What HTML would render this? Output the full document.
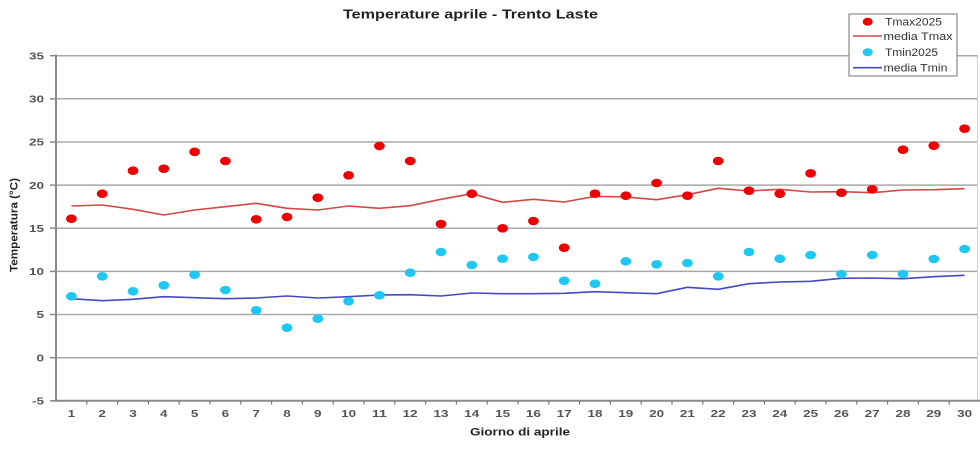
<!DOCTYPE html>
<html>
<head>
<meta charset="utf-8">
<style>
  html, body { margin:0; padding:0; background:#fff; }
  svg { display:block; }
  text { font-family: "Liberation Sans", Arial, sans-serif; }
</style>
</head>
<body>
<svg width="980" height="450" viewBox="0 0 980 450" xmlns="http://www.w3.org/2000/svg">
  <rect x="0" y="0" width="980" height="450" fill="#fff"/>

  <!-- Title -->
  <text x="343" y="18.5" font-size="12.5" font-weight="bold" fill="#222" textLength="255" lengthAdjust="spacingAndGlyphs">Temperature aprile - Trento Laste</text>

  <!-- Gridlines -->
  <g stroke="#a8a8a8" stroke-width="1.5">
    <line x1="56" y1="55.7" x2="978" y2="55.7"/>
    <line x1="56" y1="98.8" x2="978" y2="98.8"/>
    <line x1="56" y1="142" x2="978" y2="142"/>
    <line x1="56" y1="185.1" x2="978" y2="185.1"/>
    <line x1="56" y1="228.2" x2="978" y2="228.2"/>
    <line x1="56" y1="271.4" x2="978" y2="271.4"/>
    <line x1="56" y1="314.5" x2="978" y2="314.5"/>
    <line x1="56" y1="357.7" x2="978" y2="357.7"/>
  </g>
  <line x1="977.5" y1="55" x2="977.5" y2="401" stroke="#cfcfcf" stroke-width="1"/>

  <!-- Y tick marks -->
  <g stroke="#888" stroke-width="1.5">
    <line x1="50" y1="55.7" x2="56" y2="55.7"/>
    <line x1="50" y1="98.8" x2="56" y2="98.8"/>
    <line x1="50" y1="142" x2="56" y2="142"/>
    <line x1="50" y1="185.1" x2="56" y2="185.1"/>
    <line x1="50" y1="228.2" x2="56" y2="228.2"/>
    <line x1="50" y1="271.4" x2="56" y2="271.4"/>
    <line x1="50" y1="314.5" x2="56" y2="314.5"/>
    <line x1="50" y1="357.7" x2="56" y2="357.7"/>
    <line x1="50" y1="400.8" x2="56" y2="400.8"/>
  </g>

  <!-- Axes -->
  <line x1="56" y1="54.5" x2="56" y2="401.8" stroke="#8a8a8a" stroke-width="2"/>
  <line x1="55" y1="400.8" x2="980" y2="400.8" stroke="#8a8a8a" stroke-width="2"/>

  <!-- X tick marks -->
  <g stroke="#777" stroke-width="1.2">
    <line x1="86.8" y1="401" x2="86.8" y2="404.5"/>
    <line x1="117.6" y1="401" x2="117.6" y2="404.5"/>
    <line x1="148.4" y1="401" x2="148.4" y2="404.5"/>
    <line x1="179.2" y1="401" x2="179.2" y2="404.5"/>
    <line x1="210" y1="401" x2="210" y2="404.5"/>
    <line x1="240.8" y1="401" x2="240.8" y2="404.5"/>
    <line x1="271.6" y1="401" x2="271.6" y2="404.5"/>
    <line x1="302.4" y1="401" x2="302.4" y2="404.5"/>
    <line x1="333.2" y1="401" x2="333.2" y2="404.5"/>
    <line x1="364" y1="401" x2="364" y2="404.5"/>
    <line x1="394.8" y1="401" x2="394.8" y2="404.5"/>
    <line x1="425.6" y1="401" x2="425.6" y2="404.5"/>
    <line x1="456.4" y1="401" x2="456.4" y2="404.5"/>
    <line x1="487.2" y1="401" x2="487.2" y2="404.5"/>
    <line x1="518" y1="401" x2="518" y2="404.5"/>
    <line x1="548.8" y1="401" x2="548.8" y2="404.5"/>
    <line x1="579.6" y1="401" x2="579.6" y2="404.5"/>
    <line x1="610.4" y1="401" x2="610.4" y2="404.5"/>
    <line x1="641.2" y1="401" x2="641.2" y2="404.5"/>
    <line x1="672" y1="401" x2="672" y2="404.5"/>
    <line x1="702.8" y1="401" x2="702.8" y2="404.5"/>
    <line x1="733.6" y1="401" x2="733.6" y2="404.5"/>
    <line x1="764.4" y1="401" x2="764.4" y2="404.5"/>
    <line x1="795.2" y1="401" x2="795.2" y2="404.5"/>
    <line x1="826" y1="401" x2="826" y2="404.5"/>
    <line x1="856.8" y1="401" x2="856.8" y2="404.5"/>
    <line x1="887.6" y1="401" x2="887.6" y2="404.5"/>
    <line x1="918.4" y1="401" x2="918.4" y2="404.5"/>
    <line x1="949.2" y1="401" x2="949.2" y2="404.5"/>
  </g>

  <!-- Y tick labels -->
  <g font-size="10.5" fill="#555" text-anchor="end" font-weight="bold">
    <text x="44" y="59.4" textLength="15" lengthAdjust="spacingAndGlyphs">35</text>
    <text x="44" y="102.5" textLength="15" lengthAdjust="spacingAndGlyphs">30</text>
    <text x="44" y="145.7" textLength="15" lengthAdjust="spacingAndGlyphs">25</text>
    <text x="44" y="188.8" textLength="15" lengthAdjust="spacingAndGlyphs">20</text>
    <text x="44" y="231.9" textLength="15" lengthAdjust="spacingAndGlyphs">15</text>
    <text x="44" y="275.1" textLength="15" lengthAdjust="spacingAndGlyphs">10</text>
    <text x="44" y="318.2" textLength="7.5" lengthAdjust="spacingAndGlyphs">5</text>
    <text x="44" y="361.4" textLength="7.5" lengthAdjust="spacingAndGlyphs">0</text>
    <text x="44" y="404.5" textLength="12" lengthAdjust="spacingAndGlyphs">-5</text>
  </g>

  <!-- X tick labels -->
  <g font-size="10.5" fill="#555" text-anchor="middle" font-weight="bold">
    <text x="71.4" y="417" textLength="7.5" lengthAdjust="spacingAndGlyphs">1</text>
    <text x="102.2" y="417" textLength="7.5" lengthAdjust="spacingAndGlyphs">2</text>
    <text x="133" y="417" textLength="7.5" lengthAdjust="spacingAndGlyphs">3</text>
    <text x="163.8" y="417" textLength="7.5" lengthAdjust="spacingAndGlyphs">4</text>
    <text x="194.6" y="417" textLength="7.5" lengthAdjust="spacingAndGlyphs">5</text>
    <text x="225.4" y="417" textLength="7.5" lengthAdjust="spacingAndGlyphs">6</text>
    <text x="256.2" y="417" textLength="7.5" lengthAdjust="spacingAndGlyphs">7</text>
    <text x="287" y="417" textLength="7.5" lengthAdjust="spacingAndGlyphs">8</text>
    <text x="317.8" y="417" textLength="7.5" lengthAdjust="spacingAndGlyphs">9</text>
    <text x="348.6" y="417" textLength="15" lengthAdjust="spacingAndGlyphs">10</text>
    <text x="379.4" y="417" textLength="15" lengthAdjust="spacingAndGlyphs">11</text>
    <text x="410.2" y="417" textLength="15" lengthAdjust="spacingAndGlyphs">12</text>
    <text x="441" y="417" textLength="15" lengthAdjust="spacingAndGlyphs">13</text>
    <text x="471.8" y="417" textLength="15" lengthAdjust="spacingAndGlyphs">14</text>
    <text x="502.6" y="417" textLength="15" lengthAdjust="spacingAndGlyphs">15</text>
    <text x="533.4" y="417" textLength="15" lengthAdjust="spacingAndGlyphs">16</text>
    <text x="564.2" y="417" textLength="15" lengthAdjust="spacingAndGlyphs">17</text>
    <text x="595" y="417" textLength="15" lengthAdjust="spacingAndGlyphs">18</text>
    <text x="625.8" y="417" textLength="15" lengthAdjust="spacingAndGlyphs">19</text>
    <text x="656.6" y="417" textLength="15" lengthAdjust="spacingAndGlyphs">20</text>
    <text x="687.4" y="417" textLength="15" lengthAdjust="spacingAndGlyphs">21</text>
    <text x="718.2" y="417" textLength="15" lengthAdjust="spacingAndGlyphs">22</text>
    <text x="749" y="417" textLength="15" lengthAdjust="spacingAndGlyphs">23</text>
    <text x="779.8" y="417" textLength="15" lengthAdjust="spacingAndGlyphs">24</text>
    <text x="810.6" y="417" textLength="15" lengthAdjust="spacingAndGlyphs">25</text>
    <text x="841.4" y="417" textLength="15" lengthAdjust="spacingAndGlyphs">26</text>
    <text x="872.2" y="417" textLength="15" lengthAdjust="spacingAndGlyphs">27</text>
    <text x="903" y="417" textLength="15" lengthAdjust="spacingAndGlyphs">28</text>
    <text x="933.8" y="417" textLength="15" lengthAdjust="spacingAndGlyphs">29</text>
    <text x="964.6" y="417" textLength="15" lengthAdjust="spacingAndGlyphs">30</text>
  </g>

  <!-- Axis titles -->
  <text x="520" y="435.5" font-size="11" font-weight="bold" fill="#222" text-anchor="middle" textLength="100" lengthAdjust="spacingAndGlyphs">Giorno di aprile</text>
  <text transform="translate(17.5,225) rotate(-90)" x="0" y="0" font-size="11" font-weight="bold" fill="#222" text-anchor="middle" textLength="94" lengthAdjust="spacingAndGlyphs">Temperatura (°C)</text>

  <!-- media Tmax -->
  <polyline fill="none" stroke="#d04848" stroke-width="1.6" stroke-linejoin="round"
    points="71.4,206 102.2,205 133,209.3 163.8,215 194.6,210 225.4,206.7 256.2,203.3 287,208.3 317.8,210 348.6,206 379.4,208.3 410.2,205.7 441,199.3 471.8,193.7 502.6,202.3 533.4,199.3 564.2,202 595,196.3 625.8,197 656.6,199.7 687.4,194.7 718.2,188.3 749,191 779.8,189.3 810.6,192 841.4,191.7 872.2,192.7 903,190 933.8,189.7 964.6,188.7"/>

  <!-- media Tmin -->
  <polyline fill="none" stroke="#4848c0" stroke-width="1.6" stroke-linejoin="round"
    points="71.4,298.7 102.2,300.7 133,299.3 163.8,296.7 194.6,297.7 225.4,298.7 256.2,298 287,296 317.8,298 348.6,296.7 379.4,295 410.2,294.7 441,296 471.8,293 502.6,293.7 533.4,293.7 564.2,293.3 595,291.7 625.8,292.7 656.6,293.7 687.4,287.3 718.2,289.3 749,283.7 779.8,282 810.6,281.3 841.4,278.3 872.2,278 903,278.7 933.8,276.7 964.6,275.3"/>

  <!-- Tmax2025 -->
  <g fill="#ee0000">
    <ellipse cx="71.4" cy="218.7" rx="5.4" ry="4.3"/>
    <ellipse cx="102.2" cy="193.7" rx="5.4" ry="4.3"/>
    <ellipse cx="133" cy="170.7" rx="5.4" ry="4.3"/>
    <ellipse cx="163.8" cy="168.7" rx="5.4" ry="4.3"/>
    <ellipse cx="194.6" cy="151.8" rx="5.4" ry="4.3"/>
    <ellipse cx="225.4" cy="161" rx="5.4" ry="4.3"/>
    <ellipse cx="256.2" cy="219.3" rx="5.4" ry="4.3"/>
    <ellipse cx="287" cy="217" rx="5.4" ry="4.3"/>
    <ellipse cx="317.8" cy="197.7" rx="5.4" ry="4.3"/>
    <ellipse cx="348.6" cy="175.3" rx="5.4" ry="4.3"/>
    <ellipse cx="379.4" cy="146" rx="5.4" ry="4.3"/>
    <ellipse cx="410.2" cy="161" rx="5.4" ry="4.3"/>
    <ellipse cx="441" cy="224" rx="5.4" ry="4.3"/>
    <ellipse cx="471.8" cy="193.7" rx="5.4" ry="4.3"/>
    <ellipse cx="502.6" cy="228.3" rx="5.4" ry="4.3"/>
    <ellipse cx="533.4" cy="221" rx="5.4" ry="4.3"/>
    <ellipse cx="564.2" cy="247.7" rx="5.4" ry="4.3"/>
    <ellipse cx="595" cy="193.7" rx="5.4" ry="4.3"/>
    <ellipse cx="625.8" cy="195.7" rx="5.4" ry="4.3"/>
    <ellipse cx="656.6" cy="183" rx="5.4" ry="4.3"/>
    <ellipse cx="687.4" cy="195.7" rx="5.4" ry="4.3"/>
    <ellipse cx="718.2" cy="161" rx="5.4" ry="4.3"/>
    <ellipse cx="749" cy="190.7" rx="5.4" ry="4.3"/>
    <ellipse cx="779.8" cy="193.7" rx="5.4" ry="4.3"/>
    <ellipse cx="810.6" cy="173.3" rx="5.4" ry="4.3"/>
    <ellipse cx="841.4" cy="192.7" rx="5.4" ry="4.3"/>
    <ellipse cx="872.2" cy="189.3" rx="5.4" ry="4.3"/>
    <ellipse cx="903" cy="149.7" rx="5.4" ry="4.3"/>
    <ellipse cx="933.8" cy="145.7" rx="5.4" ry="4.3"/>
    <ellipse cx="964.6" cy="128.7" rx="5.4" ry="4.3"/>
  </g>

  <!-- Tmin2025 -->
  <g fill="#1ec8f2">
    <ellipse cx="71.4" cy="296.3" rx="5.4" ry="4.3"/>
    <ellipse cx="102.2" cy="276.3" rx="5.4" ry="4.3"/>
    <ellipse cx="133" cy="291.3" rx="5.4" ry="4.3"/>
    <ellipse cx="163.8" cy="285.3" rx="5.4" ry="4.3"/>
    <ellipse cx="194.6" cy="274.7" rx="5.4" ry="4.3"/>
    <ellipse cx="225.4" cy="290" rx="5.4" ry="4.3"/>
    <ellipse cx="256.2" cy="310.3" rx="5.4" ry="4.3"/>
    <ellipse cx="287" cy="327.7" rx="5.4" ry="4.3"/>
    <ellipse cx="317.8" cy="318.7" rx="5.4" ry="4.3"/>
    <ellipse cx="348.6" cy="301.3" rx="5.4" ry="4.3"/>
    <ellipse cx="379.4" cy="295.3" rx="5.4" ry="4.3"/>
    <ellipse cx="410.2" cy="272.7" rx="5.4" ry="4.3"/>
    <ellipse cx="441" cy="252" rx="5.4" ry="4.3"/>
    <ellipse cx="471.8" cy="265" rx="5.4" ry="4.3"/>
    <ellipse cx="502.6" cy="258.7" rx="5.4" ry="4.3"/>
    <ellipse cx="533.4" cy="257" rx="5.4" ry="4.3"/>
    <ellipse cx="564.2" cy="280.7" rx="5.4" ry="4.3"/>
    <ellipse cx="595" cy="283.7" rx="5.4" ry="4.3"/>
    <ellipse cx="625.8" cy="261.3" rx="5.4" ry="4.3"/>
    <ellipse cx="656.6" cy="264.3" rx="5.4" ry="4.3"/>
    <ellipse cx="687.4" cy="263" rx="5.4" ry="4.3"/>
    <ellipse cx="718.2" cy="276.3" rx="5.4" ry="4.3"/>
    <ellipse cx="749" cy="252" rx="5.4" ry="4.3"/>
    <ellipse cx="779.8" cy="258.7" rx="5.4" ry="4.3"/>
    <ellipse cx="810.6" cy="255" rx="5.4" ry="4.3"/>
    <ellipse cx="841.4" cy="274" rx="5.4" ry="4.3"/>
    <ellipse cx="872.2" cy="255" rx="5.4" ry="4.3"/>
    <ellipse cx="903" cy="274" rx="5.4" ry="4.3"/>
    <ellipse cx="933.8" cy="259" rx="5.4" ry="4.3"/>
    <ellipse cx="964.6" cy="249" rx="5.4" ry="4.3"/>
  </g>

  <!-- Legend -->
  <rect x="849" y="14" width="108" height="62" fill="#fff" stroke="#8a8a8a" stroke-width="1.2"/>
  <ellipse cx="867.7" cy="21.7" rx="5" ry="4" fill="#ee0000"/>
  <line x1="853" y1="36" x2="882" y2="36" stroke="#d04848" stroke-width="1.6"/>
  <ellipse cx="867.7" cy="52.3" rx="5" ry="4" fill="#1ec8f2"/>
  <line x1="853" y1="67.7" x2="882" y2="67.7" stroke="#4848c0" stroke-width="1.6"/>
  <g font-size="11" fill="#333">
    <text x="885" y="25.6" textLength="57" lengthAdjust="spacingAndGlyphs">Tmax2025</text>
    <text x="883.5" y="40" textLength="69" lengthAdjust="spacingAndGlyphs">media Tmax</text>
    <text x="885" y="56.2" textLength="53" lengthAdjust="spacingAndGlyphs">Tmin2025</text>
    <text x="883.5" y="71.6" textLength="64" lengthAdjust="spacingAndGlyphs">media Tmin</text>
  </g>
</svg>
</body>
</html>
